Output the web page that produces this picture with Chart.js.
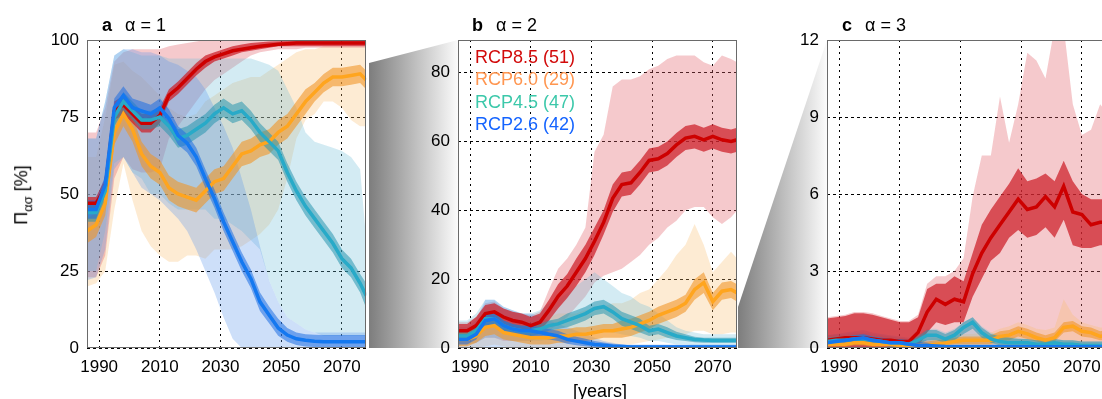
<!DOCTYPE html>
<html><head><meta charset="utf-8">
<script src="https://cdn.jsdelivr.net/npm/chart.js@4.4.1/dist/chart.umd.min.js"></script>
<style>
html,body{margin:0;padding:0;background:#fff;width:1102px;height:399px;overflow:hidden;font-family:'Liberation Sans',Arial,Helvetica,sans-serif;}
#wrap{position:relative;width:1102px;height:399px;overflow:hidden;}
canvas{position:absolute;top:0;}
.zoomshape{position:absolute;top:0;height:399px;}
.title{position:absolute;font-size:18px;line-height:1;color:#000;white-space:nowrap;}
.leg{position:absolute;left:475px;font-size:18px;line-height:22.3px;white-space:nowrap;}
#ylab{position:absolute;left:23px;top:195px;transform:translate(-50%,-50%) rotate(-90deg);white-space:nowrap;font-size:18px;line-height:1;}
#xlab{position:absolute;left:600px;top:382px;transform:translateX(-50%);font-size:18px;line-height:1;white-space:nowrap;}
</style></head>
<body><div id="wrap">
<div class="zoomshape" style="left:369px;width:89px;clip-path:polygon(0px 63px,89px 40px,89px 348px,0px 348px);background:linear-gradient(to right,#7d7d7d,#fbfbfb);"></div>
<div class="zoomshape" style="left:738px;width:89px;clip-path:polygon(0px 307px,89px 40px,89px 348px,0px 348px);background:linear-gradient(to right,#7d7d7d,#fbfbfb);"></div>
<canvas id="ca" width="370" height="399" style="left:0px"></canvas>
<canvas id="cb" width="370" height="399" style="left:371px"></canvas>
<canvas id="cc" width="370" height="399" style="left:740px"></canvas>
<div class="title" style="left:102px;top:16px"><b>a</b><span style="margin-left:13px">α = 1</span></div>
<div class="title" style="left:472px;top:16px"><b>b</b><span style="margin-left:13px">α = 2</span></div>
<div class="title" style="left:842px;top:16px"><b>c</b><span style="margin-left:13px">α = 3</span></div>
<div class="leg" style="top:46px;color:rgb(210,10,10)">RCP8.5 (51)</div>
<div class="leg" style="top:68.3px;color:rgb(255,150,80)">RCP6.0 (29)</div>
<div class="leg" style="top:90.6px;color:rgb(60,200,170)">RCP4.5 (47)</div>
<div class="leg" style="top:112.9px;color:rgb(20,100,255)">RCP2.6 (42)</div>
<div id="ylab">Π<sub style="font-size:13px">ασ</sub> [%]</div>
<div id="xlab">[years]</div>
</div>
<script>
const years = [1986,1989,1992,1995,1998,2001,2004,2007,2010,2013,2016,2019,2022,2025,2028,2031,2034,2037,2040,2043,2046,2049,2052,2055,2058,2061,2064,2067,2070,2073,2076,2078];
const xTicks = [1990,2010,2030,2050,2070];
const yTicksA = [0,25,50,75,100];
const yTicksB = [0,20,40,60,80];
const yTicksC = [0,3,6,9,12];

// Panel a (alpha = 1)
const aRedMed  = [47,47,52,77,79,76,73,73, 75.5,82,84.5,87.5,90.5,93,94.5,95.5, 96.5,97,97.5,98,98.3,98.6,98.8,99, 99,99,99,99,99,99,99,99];
const aRedInLo = [45,45,49,74,76,73,70,70, 73,80,82.5,85.5,88.5,91,93,94, 95,96,96.5,97,97.5,98,98,98, 98,98,98,98,98,98,98,98];
const aRedInHi = [49,49,55,80,82,79,76,76, 78,84,86.5,89.5,92.5,95,96,97, 98,98.5,99,99.3,99.5,99.6,99.7,99.8, 99.8,99.8,99.8,99.8,99.8,99.8,99.8,99.8];
const aRedOutLo = [23,23,30,55,62,58,57,57, 58,68,72,76,80,84,87,89, 91,93,95,96,96.5,97,97,97, 97.5,97.5,97.5,97.5,97.5,97.5,97.5,97.5];
const aRedOutHi = [70,70,78,93,96,97,97,97, 97,98,98.5,99,99.5,100,100,100, 100,100,100,100,100,100,100,100, 100,100,100,100,100,100,100,100];

const aOraMed  = [38,40,47,70,76,71,63,59, 57,52,50,49,48,51,54,55, 59,63,64,66,67,70,72,76, 80,83,86,88,88,88.5,89,87];
const aOraInLo = [34,36,43,66,72,67,59,55, 53,48,46,45,44,47,50,51, 55,59,60,62,63,66,68,72, 76,80,83,85,85,85.5,86,84];
const aOraInHi = [42,44,51,74,80,75,67,63, 61,56,54,53,52,55,58,59, 63,67,68,70,71,74,76,80, 84,86,89,91,91,91.5,92,90];
const aOraOutLo = [20,21,25,45,60,48,38,33, 30,28,28,30,30,29,32,32, 32,33,35,37,40,45,55,68, 74,76,80,80,78,74,72,72];
const aOraOutHi = [62,62,75,92,93,90,88,85, 82,78,76,75,76,80,82,84, 86,87,88,88,90,92,94,96, 97,97,98,98,98,98,98,98];

const aTeaMed  = [44,44,51,75,80,77,74,74, 75,72,68,69,71,73,76,78, 76,77,74,70,67,64,57,51, 46,42,38,34,29,26,21,17];
const aTeaInLo = [41,41,48,72,77,74,71,71, 72,69,65,66,68,70,73,75, 73,74,71,67,64,61,54,48, 43,39,35,31,26,23,18,13];
const aTeaInHi = [47,47,54,78,83,80,77,77, 78,75,71,72,74,76,79,81, 79,80,77,73,70,67,60,54, 49,45,41,37,32,29,24,21];
const aTeaOutLo = [25,25,38,60,62,57,55,50, 50,47,45,45,45,45,42,42, 40,38,35,32,22,15,10,8, 6,5,4,4,4,4,4,4];
const aTeaOutHi = [68,68,80,95,97,96,95,95, 95,94,94,94,94,94,94,94, 94,94,94,93,92,90,84,78, 70,67,66,65,64,62,58,35];

const aBluMed  = [45,45,53,78,82,78,77,76, 78,74.5,69,66.5,62,55,48.5,41, 34.5,28,22.5,15,10.7,6.5,4.2,3, 2.5,2.2,2,2,2,2,2,2];
const aBluInLo = [42,42,50,75,79,75,74,73, 75,71.5,66,63.5,59,52,45.5,38, 31.5,25,19.5,12,8,4,2,1, 0.5,0.3,0.2,0.2,0.2,0.2,0.2,0.2];
const aBluInHi = [48,48,56,81,85,81,80,79, 81,77.5,72,69.5,65,58,51.5,44, 37.5,31,25.5,18,13.5,9.5,6.5,5, 4.5,4.3,4.2,4.2,4.2,4.2,4.2,4.2];
const aBluOutLo = [22,23,32,58,62,57,52,50, 48,45,42,38,32,25,18,10, 3,0,0,0,0,0,0,0, 0,0,0,0,0,0,0,0];
const aBluOutHi = [68,68,80,95,97,97,96,96, 95,93,92,90,88,84,78,72, 65,55,45,33,22,15,10,8, 6,5,5,5,5,5,5,5];

// Panel b (alpha = 2)
const bRedMed  = [5,5,6.5,10,10.5,9,8,7.5, 6.5,7.5,11,15,18,22,26,31, 36.5,43.5,47.5,48,51,54.5,55,56.5, 59,61,61.5,60.5,61.5,60.5,60,60.5];
const bRedInLo = [2.5,2.5,4,7.5,8,6.5,5.5,5, 4.5,5,8,11.5,14.5,18,22,27, 33,39.5,44,44.5,47.5,51,51.5,53, 55.5,57.5,58,57,58,57,56.5,57];
const bRedInHi = [7,7,9,12.5,13,11.5,10.5,10, 9,10,14,18.5,21.5,26,30,35, 40,47.5,51,51.5,54.5,58,58.5,60, 62.5,64.5,65,64,65,64,63.5,64];
const bRedOutLo = [1,1,1.5,3,3,2,2,2, 2,3,5,7,9,12,15,19, 21,22,23,25,27,30,32,35, 37,40,41,41,38,36,38,40];
const bRedOutHi = [7.5,7.5,9,13,13.5,11.5,10.5,10, 9.5,10.5,17,23,26,30,35,57, 62,76,78,78,79,81,82,84, 85,85,85,83,82,85,84,83];

const bOraMed  = [2.5,2.5,3.5,6,6.5,4.5,4,3.5, 3,3,3,3.5,3.5,4,4,4.5, 5,5,5.5,6,7,8,9.5,10.5, 11.5,13,17,19,13.5,16.5,17,16];
const bOraInLo = [0.5,0.5,1.5,3.5,4,2.5,2,1.5, 1,1,1,1.5,1.5,2,2,2.5, 3,3,3,3.5,4.5,5.5,7,8, 9,10.5,14,16,11,14,14.5,13.5];
const bOraInHi = [4.5,4.5,5.5,8.5,9,6.5,6,5.5, 5,5,5,5.5,5.5,6,6,6.5, 7,7,8,8.5,9.5,10.5,12,13, 14,15.5,20,22,16,19,19.5,18.5];
const bOraOutLo = [0,0,0,0.5,1,0.5,0,0, 0,0,0,0,0,0,0,0, 0.5,0.5,1,1,1.5,2,2.5,3, 3.5,4,5,5,4,4,4.5,4.5];
const bOraOutHi = [6,6,7,12,12,9,8,8, 8,8,9,10,10,10,11,12, 12,13,13,14,16,17,20,23, 27,30,36,30,22,25,28,26];

const bTeaMed  = [3.5,3.5,5,8.5,8.5,6.5,5.5,5, 5,5.5,6.5,7,8,9,10,11.5, 12,10.5,8.5,7.5,6.5,5,5.5,4.5, 3.5,3,2.5,2.3,2.2,2.2,2.2,2.2];
const bTeaInLo = [2,2,3.5,6.5,6.5,5,4,3.5, 3.5,4,5,5.5,6,7,8,9.5, 10,8.5,6.5,5.5,4.5,3.5,4,3, 2.3,2,1.7,1.5,1.5,1.5,1.5,1.5];
const bTeaInHi = [5,5,6.5,10.5,10.5,8,7,6.5, 6.5,7,8,8.5,10,11,12,13.5, 14,12.5,10.5,9.5,8.5,6.5,7,6, 4.7,4,3.3,3,3,3,3,3];
const bTeaOutLo = [1,1,1.5,3,3,2.5,2,2, 2,2,2.5,3,3.5,4,4.5,5, 5,4.5,4,3.5,3,2,2,1.5, 1,1,0.8,0.8,0.8,0.8,0.8,0.8];
const bTeaOutHi = [8,8,10,14,14,12,11,10, 10,11,13,14,16,18,20,22, 20,18,16,15,13,12,10,8, 6,5,4.5,4,4,4,4,4];

const bBluMed  = [2.5,2.5,4,8,8.5,6.5,5.5,5, 5,4.5,4,3.5,2.5,2,1.5,1, 0.8,0.5,0.4,0.3,0.3,0.3,0.3,0.3, 0.3,0.3,0.3,0.3,0.3,0.3,0.3,0.3];
const bBluInLo = [1,1,2.5,6.5,7,5,4,3.5, 3.5,3,2.5,2,1.2,0.8,0.5,0.3, 0.2,0.1,0.1,0,0,0,0,0, 0,0,0,0,0,0,0,0];
const bBluInHi = [4,4,5.5,9.5,10,8,7,6.5, 6.5,6,5.5,5,4,3.3,2.7,2, 1.6,1.2,1,0.8,0.8,0.8,0.8,0.8, 0.8,0.8,0.8,0.8,0.8,0.8,0.8,0.8];
const bBluOutLo = [0,0,0,0,0,0,0,0, 0,0,0,0,0,0,0,0, 0,0,0,0,0,0,0,0, 0,0,0,0,0,0,0,0];
const bBluOutHi = [6,6,8,14,14,12,11,10, 10,9,8,7,6,5,4,3, 2,1.5,1,1,1,1,1,1, 1,1,1,1,1,1,1,1];

// Panel c (alpha = 3)
const cRedMed  = [0.3,0.35,0.4,0.4,0.4,0.35,0.3,0.3, 0.25,0.25,0.6,1.4,1.9,1.7,1.9,1.8, 2.9,3.7,4.3,4.8,5.3,5.8,5.4,5.5, 5.9,5.5,6.3,5.3,5.2,4.8,4.9,4.9];
const cRedInLo = [0,0,0,0,0,0,0,0, 0,0,0.05,0.6,1.0,0.9,1.0,1.0, 2.0,2.7,3.4,3.7,4.3,4.6,4.3,4.4, 4.7,4.3,5.0,4.0,3.9,3.9,4.0,4.0];
const cRedInHi = [1.15,1.2,1.25,1.35,1.35,1.3,1.2,1.1, 1.0,1.0,1.2,2.3,2.5,2.5,2.8,2.6, 3.7,4.8,5.4,5.9,6.4,7.0,6.5,6.6, 6.8,6.5,7.3,6.5,6.0,5.8,5.8,5.8];
const cRedOutLo = [0,0,0,0,0,0,0,0, 0,0,0,0,0,0,0,0, 0,0,0,0,0,0,0,0, 0,0,0,0,0,0,0,0];
const cRedOutHi = [1.2,1.25,1.3,1.4,1.4,1.35,1.25,1.15, 1.05,1.05,1.3,2.5,2.8,2.8,3.0,3.5, 5.9,7.5,7.5,9.8,8.0,9.5,11.5,11.2, 10.5,12.5,12.5,9.5,8.3,8.5,9.5,9.2];

const cOraMed  = [0.15,0.15,0.15,0.2,0.2,0.15,0.15,0.15, 0.1,0.1,0.1,0.1,0.15,0.2,0.25,0.3, 0.3,0.3,0.3,0.45,0.5,0.65,0.55,0.4, 0.3,0.4,0.8,0.85,0.65,0.6,0.45,0.5];
const cOraInLo = [0.05,0.05,0.05,0.1,0.1,0.05,0.05,0.05, 0,0,0,0,0.05,0.1,0.15,0.15, 0.15,0.15,0.15,0.3,0.3,0.45,0.35,0.25, 0.15,0.25,0.6,0.65,0.45,0.4,0.3,0.3];
const cOraInHi = [0.3,0.3,0.3,0.35,0.35,0.3,0.3,0.3, 0.25,0.25,0.25,0.25,0.3,0.35,0.4,0.45, 0.45,0.45,0.5,0.65,0.7,0.85,0.75,0.6, 0.5,0.6,1.0,1.05,0.85,0.8,0.65,0.7];
const cOraOutLo = [0,0,0,0,0,0,0,0, 0,0,0,0,0,0,0,0, 0,0,0,0,0,0,0,0, 0,0,0,0,0,0,0,0];
const cOraOutHi = [0.5,0.5,0.5,0.55,0.55,0.5,0.45,0.45, 0.4,0.35,0.35,0.35,0.4,0.45,0.5,0.55, 0.55,0.6,0.6,0.75,0.85,1.0,0.9,0.75, 0.7,0.8,1.9,1.3,1.0,0.9,0.8,0.8];

const cTeaMed  = [0.25,0.3,0.3,0.35,0.35,0.3,0.25,0.2, 0.2,0.15,0.3,0.5,0.5,0.35,0.5,0.8, 1.0,0.6,0.35,0.25,0.2,0.2,0.2,0.15, 0.15,0.2,0.15,0.15,0.1,0.1,0.1,0.1];
const cTeaInLo = [0.1,0.15,0.15,0.2,0.2,0.15,0.1,0.05, 0.05,0,0.15,0.3,0.3,0.2,0.3,0.55, 0.75,0.4,0.2,0.1,0.05,0.05,0.05,0, 0,0.05,0,0,0,0,0,0];
const cTeaInHi = [0.4,0.45,0.45,0.5,0.5,0.45,0.4,0.35, 0.35,0.3,0.45,0.7,0.7,0.55,0.7,1.0, 1.2,0.8,0.55,0.45,0.4,0.35,0.35,0.3, 0.3,0.35,0.3,0.3,0.25,0.25,0.25,0.25];
const cTeaOutLo = [0,0,0,0,0,0,0,0, 0,0,0,0,0,0,0,0, 0,0,0,0,0,0,0,0, 0,0,0,0,0,0,0,0];
const cTeaOutHi = [0.5,0.55,0.55,0.6,0.6,0.55,0.5,0.45, 0.4,0.35,0.5,0.75,0.75,0.6,0.75,1.0, 1.2,0.85,0.6,0.5,0.45,0.4,0.35,0.3, 0.3,0.35,0.3,0.3,0.25,0.25,0.25,0.25];

const cBluMed  = [0.2,0.25,0.3,0.35,0.4,0.3,0.25,0.2, 0.2,0.15,0.1,0.1,0.08,0.06,0.05,0.05, 0.05,0.05,0.05,0.05,0.05,0.05,0.05,0.05, 0.05,0.05,0.05,0.05,0.05,0.05,0.05,0.05];
const cBluInLo = [0.1,0.15,0.2,0.25,0.3,0.2,0.15,0.1, 0.1,0.05,0,0,0,0,0,0, 0,0,0,0,0,0,0,0, 0,0,0,0,0,0,0,0];
const cBluInHi = [0.35,0.4,0.45,0.5,0.55,0.45,0.4,0.35, 0.35,0.3,0.25,0.2,0.15,0.12,0.1,0.1, 0.1,0.1,0.1,0.1,0.1,0.1,0.1,0.1, 0.1,0.1,0.1,0.1,0.1,0.1,0.1,0.1];
const cBluOutLo = [0,0,0,0,0,0,0,0, 0,0,0,0,0,0,0,0, 0,0,0,0,0,0,0,0, 0,0,0,0,0,0,0,0];
const cBluOutHi = [0.5,0.55,0.6,0.65,0.7,0.6,0.55,0.5, 0.45,0.4,0.35,0.3,0.25,0.2,0.15,0.15, 0.15,0.15,0.15,0.15,0.15,0.15,0.15,0.15, 0.15,0.15,0.15,0.15,0.15,0.15,0.15,0.15];

const colRed = {line:'rgb(205,0,0)', inner:'rgba(205,30,40,0.72)', outer:'rgba(225,100,110,0.35)'};
const colOra = {line:'rgb(255,165,30)', inner:'rgba(240,150,40,0.6)', outer:'rgba(250,190,110,0.3)'};
const colTea = {line:'rgb(40,170,200)', inner:'rgba(40,150,175,0.55)', outer:'rgba(110,190,215,0.3)'};
const colBlu = {line:'rgb(20,120,240)', inner:'rgba(30,110,225,0.55)', outer:'rgba(90,150,235,0.3)'};

const FONT = {family:"'Liberation Sans', Arial, Helvetica, sans-serif", size:17};

function pts(arr){ return years.map((x,i)=>({x:x, y:arr[i]})); }

function scenario(med, inLo, inHi, outLo, outHi, col, rank){
  const base = {pointRadius:0, pointHoverRadius:0, tension:0, borderWidth:0};
  return [
    Object.assign({}, base, {data:pts(outLo), fill:false, order:300+rank}),
    Object.assign({}, base, {data:pts(outHi), fill:'-1', backgroundColor:col.outer, order:300+rank}),
    Object.assign({}, base, {data:pts(inLo), fill:false, order:200+rank}),
    Object.assign({}, base, {data:pts(inHi), fill:'-1', backgroundColor:col.inner, order:200+rank}),
    Object.assign({}, base, {data:pts(med), fill:false, borderColor:col.line, borderWidth:3.5, order:100+rank})
  ];
}

const framePlugin = {
  id:'frame',
  afterDatasetsDraw(chart){
    const {ctx, chartArea:a} = chart;
    ctx.save();
    ctx.strokeStyle = '#6a6a6a';
    ctx.lineWidth = 1;
    ctx.strokeRect(Math.round(a.left)+0.5, Math.round(a.top)+0.5, Math.round(a.right-a.left)-1, Math.round(a.bottom-a.top)-1);
    ctx.restore();
  }
};

function makeChart(id, ymax, yTicks, series, padRight){
  let datasets = [];
  series.forEach(s => { datasets = datasets.concat(scenario.apply(null, s)); });
  new Chart(document.getElementById(id), {
    type:'line',
    data:{datasets:datasets},
    plugins:[framePlugin],
    options:{
      responsive:false, animation:false, devicePixelRatio:1,
      layout:{padding:{top:40, right:padRight, bottom:0, left:0}},
      plugins:{legend:{display:false}, tooltip:{enabled:false}},
      scales:{
        x:{type:'linear', min:1986, max:2078,
           afterBuildTicks: s => { s.ticks = xTicks.map(v => ({value:v})); },
           afterFit: s => { s.height = 51; },
           ticks:{font:FONT, color:'#000', padding:9, maxRotation:0, autoSkip:false, callback: v => String(v)},
           grid:{color:'#000', lineWidth:1, drawTicks:false},
           border:{display:false, dash:[2,4]}},
        y:{type:'linear', min:0, max:ymax,
           afterBuildTicks: s => { s.ticks = yTicks.map(v => ({value:v})); },
           afterFit: s => { s.width = 87; },
           ticks:{font:FONT, color:'#000', padding:8, callback: v => String(v)},
           grid:{color:'#000', lineWidth:1, drawTicks:false},
           border:{display:false, dash:[3,3]}}
      }
    }
  });
}

makeChart('ca', 100, yTicksA, [
  [aOraMed,aOraInLo,aOraInHi,aOraOutLo,aOraOutHi,colOra,4],
  [aRedMed,aRedInLo,aRedInHi,aRedOutLo,aRedOutHi,colRed,3],
  [aTeaMed,aTeaInLo,aTeaInHi,aTeaOutLo,aTeaOutHi,colTea,2],
  [aBluMed,aBluInLo,aBluInHi,aBluOutLo,aBluOutHi,colBlu,1]
], 2);
makeChart('cb', 89.5, yTicksB, [
  [bRedMed,bRedInLo,bRedInHi,bRedOutLo,bRedOutHi,colRed,4],
  [bOraMed,bOraInLo,bOraInHi,bOraOutLo,bOraOutHi,colOra,3],
  [bTeaMed,bTeaInLo,bTeaInHi,bTeaOutLo,bTeaOutHi,colTea,2],
  [bBluMed,bBluInLo,bBluInHi,bBluOutLo,bBluOutHi,colBlu,1]
], 3);
makeChart('cc', 12, yTicksC, [
  [cRedMed,cRedInLo,cRedInHi,cRedOutLo,cRedOutHi,colRed,4],
  [cOraMed,cOraInLo,cOraInHi,cOraOutLo,cOraOutHi,colOra,3],
  [cTeaMed,cTeaInLo,cTeaInHi,cTeaOutLo,cTeaOutHi,colTea,2],
  [cBluMed,cBluInLo,cBluInHi,cBluOutLo,cBluOutHi,colBlu,1]
], 2);
</script>
</body></html>
